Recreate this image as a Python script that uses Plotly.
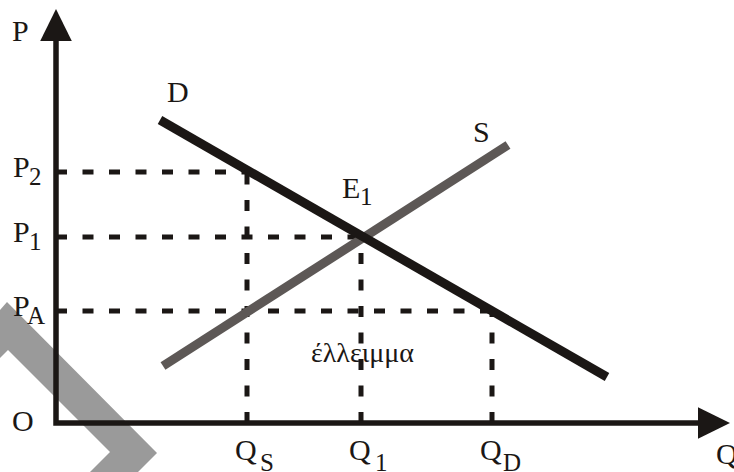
import plotly.graph_objects as go

# Διάγραμμα ελλείμματος: ζήτηση D, προσφορά S, ανώτατη τιμή P_A
q_names = ["S", "1", "D"]            # δείκτες των Q
q_values = [19.1, 30.5, 43.6]

p_names = ["2", "1", "A"]            # δείκτες των P
p_values = [25.1, 18.6, 11.2]

# τιμή στην οποία διαβάζεται κάθε ποσότητα (QS→P2, Q1→P1, QD→PA)
q_at_price = [25.1, 18.6, 11.2]
# μέχρι ποια ποσότητα φτάνει κάθε οριζόντια διακεκομμένη
p_to_qty = [19.1, 30.5, 43.6]

demand_q = [10.4, 55.1]
demand_p = [30.3, 4.6]
supply_q = [10.7, 45.2]
supply_p = [5.7, 27.8]

q_axis_end = 67.4
p_axis_end = 41.4

INK = "#1b1715"
GREY = "#5d5856"
FONT = "Liberation Serif, DejaVu Serif, serif"
BIG = 30
SUB = 25

fig = go.Figure()

# διακεκομμένες
dash = dict(color=INK, width=5, dash="11px,15.5px")
for p, q in zip(p_values, p_to_qty):
    fig.add_trace(go.Scatter(x=[0, q], y=[p, p], mode="lines", line=dash))
for q, p in zip(q_values, q_at_price):
    fig.add_trace(go.Scatter(x=[q, q], y=[0, p], mode="lines", line=dash))

# καμπύλες
fig.add_trace(go.Scatter(x=supply_q, y=supply_p, mode="lines",
                         line=dict(color=GREY, width=9)))
fig.add_trace(go.Scatter(x=demand_q, y=demand_p, mode="lines",
                         line=dict(color=INK, width=9)))

# άξονες με βέλη
head = 3.2   # μήκος κεφαλής (μονάδες)
half = 1.58  # μισό πλάτος κεφαλής
fig.add_trace(go.Scatter(x=[0, 0, q_axis_end - head], y=[p_axis_end - head, 0, 0],
                         mode="lines", line=dict(color=INK, width=5.5)))
fig.add_trace(go.Scatter(x=[-half, half, 0, -half],
                         y=[p_axis_end - head, p_axis_end - head, p_axis_end, p_axis_end - head],
                         mode="lines", fill="toself", fillcolor=INK, line=dict(color=INK, width=0)))
fig.add_trace(go.Scatter(x=[q_axis_end - head, q_axis_end - head, q_axis_end, q_axis_end - head],
                         y=[-half, half, 0, -half],
                         mode="lines", fill="toself", fillcolor=INK, line=dict(color=INK, width=0)))

# υδατογράφημα (γκρι βέλος κάτω αριστερά)
wm_x = [-5.6, -4.9, 10.1, 8.2, 3.4, 5.4, -4.8, -5.6]
wm_y = [11.3, 12.1, -3.0, -4.9, -4.9, -2.9, 7.3, 6.5]
fig.add_shape(type="path", layer="below", line_width=0, fillcolor="#9a9a9a",
              path="M " + " L ".join(f"{x},{y}" for x, y in zip(wm_x, wm_y)) + " Z")


def label(x, y, text, xs, ys, size=BIG):
    fig.add_annotation(x=x, y=y, text=text, showarrow=False, xanchor="center", yanchor="middle",
                       xshift=xs, yshift=ys, font=dict(family=FONT, size=size, color=INK))


for t, p in zip(p_names, p_values):
    label(0, p, "P", -34.5, 6)
    label(0, p, t, -20.5, -4, size=SUB)
for t, q in zip(q_names, q_values):
    label(q, 0, "Q", -1, -26)
    label(q, 0, t, 20, -39, size=SUB)

label(0, p_axis_end, "P", -35.5, -21.5)
label(0, 0, "O", -33, 3)
label(q_axis_end, 0, "Q", -3, -30)
label(demand_q[0], demand_p[0], "D", 17.5, 29)
label(supply_q[1], supply_p[1], "S", -26.5, 14)
label(q_values[1], p_values[1], "E", -10, 50)
label(q_values[1], p_values[1], "1", 5, 41, size=SUB)
label(q_values[1], p_values[2], "έλλειμμα", 1, -41, size=28)

fig.update_layout(
    width=734, height=472,
    margin=dict(l=0, r=0, t=0, b=0),
    paper_bgcolor="white", plot_bgcolor="white",
    showlegend=False,
    xaxis=dict(range=[-5.6, 67.8], visible=False, fixedrange=True),
    yaxis=dict(range=[-4.9, 42.3], visible=False, fixedrange=True),
)

fig.write_html("out.html", config={"displayModeBar": False},
               post_script="document.body.style.margin='0';")
